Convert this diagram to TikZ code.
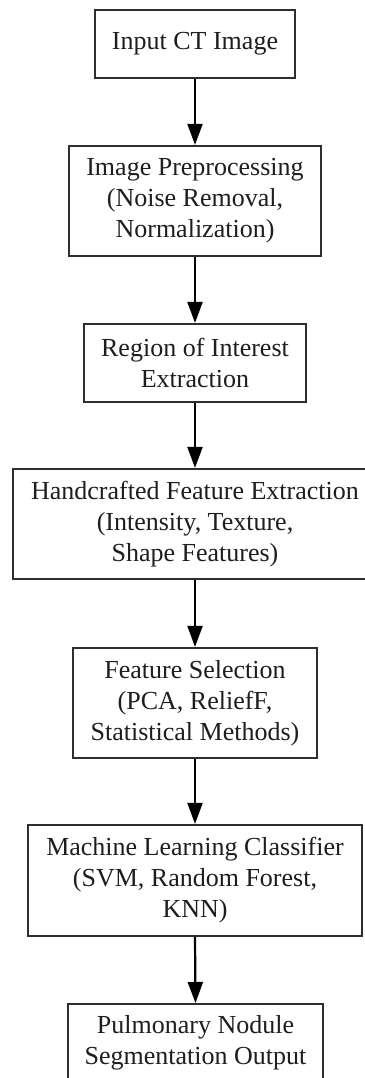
\documentclass[tikz,border=0pt]{standalone}
\usepackage{fontspec}
\setmainfont{Liberation Serif}
\usetikzlibrary{arrows.meta}
\definecolor{boxline}{HTML}{2E2E2E}
\definecolor{txt}{HTML}{1E1E1E}
\tikzset{
  stage/.style={draw=boxline, line width=2.2pt, fill=white, align=center,
    inner sep=0pt, text=txt, font=\fontsize{26}{31}\selectfont},
  flow/.style={line width=2.2pt, draw=black,
    -{Triangle[length=21pt,width=15pt]}, shorten >=0pt}
}
\begin{document}
\begin{tikzpicture}[x=1pt,y=-1pt]
  \useasboundingbox (0,0) rectangle (364,1078);

  \node[stage, minimum width=200pt, minimum height=68pt] (input) at (195,44)
    {Input CT Image};
  \node[stage, minimum width=252pt, minimum height=110pt] (prep) at (195,201)
    {Image Preprocessing\\(Noise Removal,\\Normalization)};
  \node[stage, minimum width=222pt, minimum height=78pt] (roi) at (195,363)
    {Region of Interest\\Extraction};
  \node[stage, minimum width=364pt, minimum height=110pt] (hand) at (195,524)
    {Handcrafted Feature Extraction\\(Intensity, Texture,\\Shape Features)};
  \node[stage, minimum width=244pt, minimum height=110pt] (sel) at (195,703)
    {Feature Selection\\(PCA, ReliefF,\\Statistical Methods)};
  \node[stage, minimum width=334pt, minimum height=111pt] (clf) at (195,880.5)
    {Machine Learning Classifier\\(SVM, Random Forest,\\KNN)};
  \node[stage, minimum width=255pt, minimum height=78pt, anchor=north] (out) at (195.5,1003)
    {Pulmonary Nodule\\Segmentation Output};

  \draw[flow] (input.south) -- (prep.north);
  \draw[flow] (prep.south) -- (roi.north);
  \draw[flow] (roi.south) -- (hand.north);
  \draw[flow] (hand.south) -- (sel.north);
  \draw[flow] (sel.south) -- (clf.north);
  \draw[flow] (clf.south) -- (out.north);
\end{tikzpicture}
\end{document}
